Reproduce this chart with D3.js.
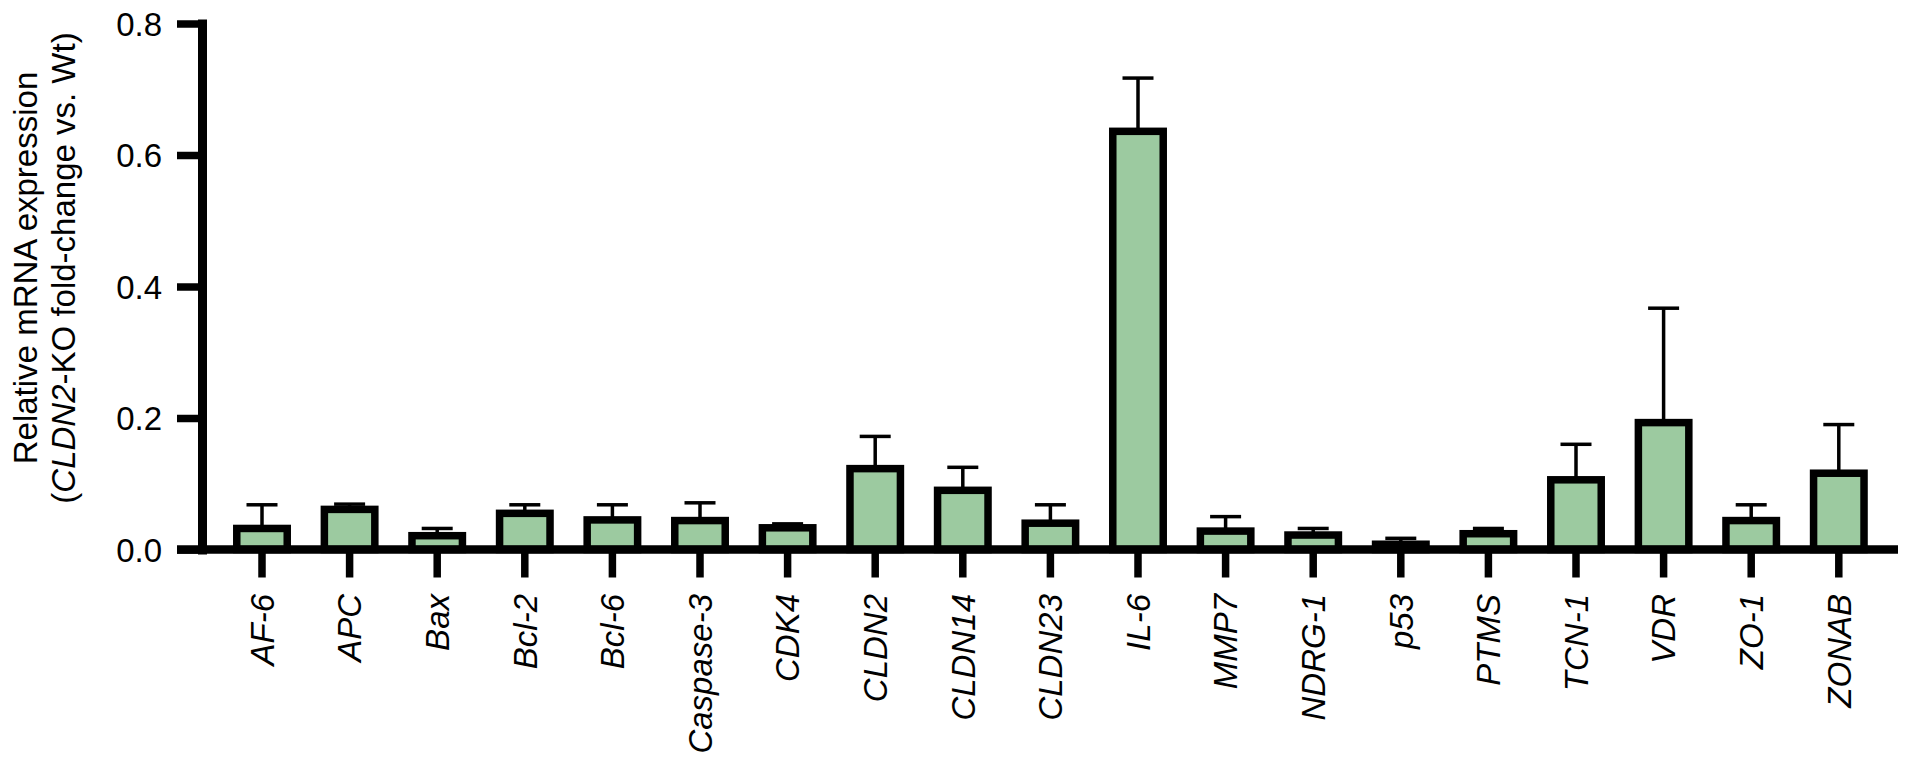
<!DOCTYPE html>
<html>
<head>
<meta charset="utf-8">
<script src="https://cdn.jsdelivr.net/npm/d3@7"></script>
<style>
  html, body { margin: 0; padding: 0; background: #fff; }
  svg { display: block; font-family: "Liberation Sans", Arial, Helvetica, sans-serif; }
</style>
</head>
<body>
<svg id="chart" width="1913" height="765"></svg>
<script>
// ---- data ----
const genes = ["AF-6", "APC", "Bax", "Bcl-2", "Bcl-6", "Caspase-3", "CDK4", "CLDN2", "CLDN14", "CLDN23",
               "IL-6", "MMP7", "NDRG-1", "p53", "PTMS", "TCN-1", "VDR", "ZO-1", "ZONAB"];
const meanValues = [0.032, 0.061, 0.021, 0.055, 0.045, 0.044, 0.033, 0.123, 0.090, 0.040,
                    0.636, 0.028, 0.022, 0.008, 0.024, 0.106, 0.193, 0.044, 0.116];
const errorValues = [0.036, 0.008, 0.011, 0.013, 0.023, 0.027, 0.006, 0.049, 0.035, 0.028,
                     0.081, 0.022, 0.010, 0.009, 0.008, 0.054, 0.174, 0.024, 0.074];
const yTickValues = [0.0, 0.2, 0.4, 0.6, 0.8];
const yTitleLine1 = "Relative mRNA expression";
const yTitleLine2 = ["(", "CLDN2", "-KO fold-change vs. Wt)"];

// ---- layout ----
const svg = d3.select("#chart");
const fontSize = 33;
const barFill = "#9ccaa0";
const axisX = 202;

const y = d3.scaleLinear().domain([0, 0.8]).range([549.5, 23.5]);
const x = d3.scaleBand().domain(genes).range([218.2, 1882.6])
  .paddingInner(0.424).paddingOuter(0.212);

const data = genes.map((g, i) => ({ gene: g, mean: meanValues[i], err: errorValues[i] }));

// error bars (upper only)
const eb = svg.append("g").attr("stroke", "#000").attr("stroke-width", 3.5).attr("fill", "none");
eb.selectAll("line.v").data(data).join("line").attr("class", "v")
  .attr("x1", d => x(d.gene) + x.bandwidth() / 2)
  .attr("x2", d => x(d.gene) + x.bandwidth() / 2)
  .attr("y1", d => y(d.mean))
  .attr("y2", d => y(d.mean + d.err));
eb.selectAll("line.cap").data(data).join("line").attr("class", "cap")
  .attr("x1", d => x(d.gene) + x.bandwidth() / 2 - 15.5)
  .attr("x2", d => x(d.gene) + x.bandwidth() / 2 + 15.5)
  .attr("y1", d => y(d.mean + d.err))
  .attr("y2", d => y(d.mean + d.err));

// bars
svg.append("g").selectAll("rect").data(data).join("rect")
  .attr("x", d => x(d.gene))
  .attr("width", x.bandwidth())
  .attr("y", d => y(d.mean))
  .attr("height", d => y(0) - y(d.mean))
  .attr("fill", barFill)
  .attr("stroke", "#000")
  .attr("stroke-width", 7.5);

// x axis
const xAxisG = svg.append("g").attr("transform", `translate(0,${y(0)})`)
  .call(d3.axisBottom(x).tickSize(28).tickSizeOuter(0));
xAxisG.select(".domain").remove();
xAxisG.selectAll(".tick line").attr("stroke", "#000").attr("stroke-width", 7.5);
xAxisG.selectAll(".tick text")
  .attr("x", 0).attr("y", 0).attr("dy", "0.36em")
  .attr("transform", "translate(0,44.5) rotate(-90)")
  .attr("text-anchor", "end")
  .style("font-style", "italic")
  .style("font-size", fontSize + "px")
  .attr("fill", "#000");
svg.append("line")
  .attr("x1", 177).attr("x2", 1898)
  .attr("y1", y(0)).attr("y2", y(0))
  .attr("stroke", "#000").attr("stroke-width", 8.5);

// y axis
const yAxisG = svg.append("g").attr("transform", `translate(${axisX},0)`)
  .call(d3.axisLeft(y).tickValues(yTickValues).tickFormat(d3.format(".1f"))
    .tickSize(25).tickSizeOuter(0).tickPadding(15));
yAxisG.select(".domain").attr("stroke", "#000").attr("stroke-width", 9).attr("stroke-linecap", "square");
yAxisG.selectAll(".tick line").attr("stroke", "#000").attr("stroke-width", 7.5);
yAxisG.selectAll(".tick text")
  .attr("dy", "0.36em")
  .style("font-size", fontSize + "px")
  .style("font-family", "'Liberation Sans', Arial, Helvetica, sans-serif")
  .attr("fill", "#000");
xAxisG.selectAll(".tick text").style("font-family", "'Liberation Sans', Arial, Helvetica, sans-serif");

// y title
svg.append("text")
  .attr("transform", "translate(37,268) rotate(-90)")
  .attr("text-anchor", "middle")
  .style("font-size", fontSize + "px")
  .text(yTitleLine1);
const t2 = svg.append("text")
  .attr("transform", "translate(75,268) rotate(-90)")
  .attr("text-anchor", "middle")
  .style("font-size", fontSize + "px");
t2.append("tspan").text(yTitleLine2[0]);
t2.append("tspan").style("font-style", "italic").text(yTitleLine2[1]);
t2.append("tspan").text(yTitleLine2[2]);
</script>
</body>
</html>
